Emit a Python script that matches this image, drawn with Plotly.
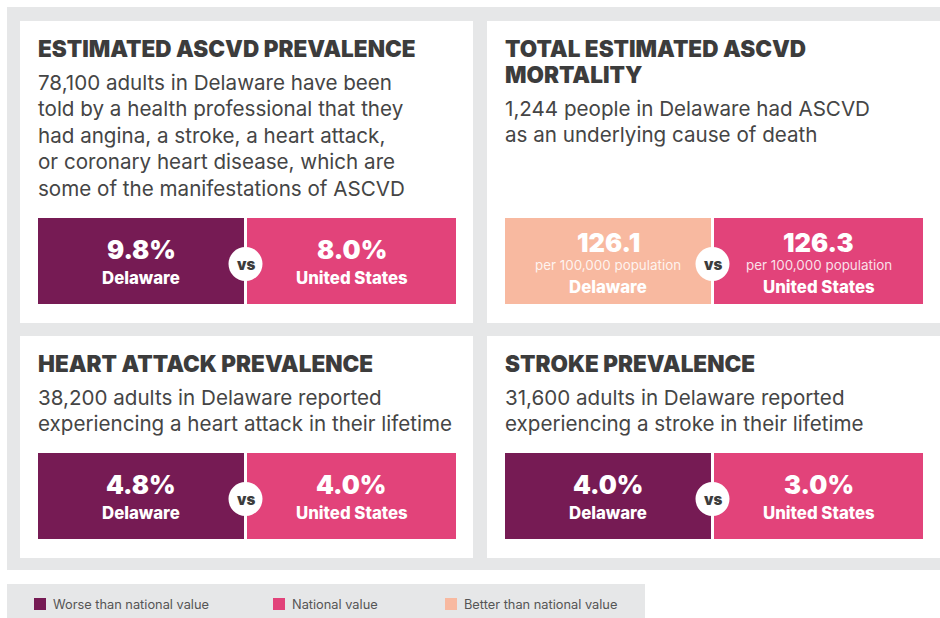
import plotly.graph_objects as go

# ---------------- data ----------------
titles = [
    ["ESTIMATED ASCVD PREVALENCE"],
    ["TOTAL ESTIMATED ASCVD", "MORTALITY"],
    ["HEART ATTACK PREVALENCE"],
    ["STROKE PREVALENCE"],
]
descriptions = [
    ["78,100 adults in Delaware have been",
     "told by a health professional that they",
     "had angina, a stroke, a heart attack,",
     "or coronary heart disease, which are",
     "some of the manifestations of ASCVD"],
    ["1,244 people in Delaware had ASCVD",
     "as an underlying cause of death"],
    ["38,200 adults in Delaware reported",
     "experiencing a heart attack in their lifetime"],
    ["31,600 adults in Delaware reported",
     "experiencing a stroke in their lifetime"],
]
state_values = ["9.8%", "126.1", "4.8%", "4.0%"]
us_values = ["8.0%", "126.3", "4.0%", "3.0%"]
value_units = ["", "per 100,000 population", "", ""]
state_status = ["worse", "better", "worse", "worse"]
state_name = "Delaware"
nation_name = "United States"
legend_labels = ["Worse than national value", "National value", "Better than national value"]
legend_keys = ["worse", "national", "better"]

# ---------------- styles ----------------
COL = {"worse": "#761B54", "national": "#E2437A", "better": "#F8B9A0"}
GREY = "#E6E7E8"
TITLE_C = "#3C3C3C"
TEXT_C = "#454545"
W, H = 940, 618
HEAVY = "Inter"
BODY = "Inter"

# card frames: (x0, y0, x1, y1)
cards = [(20, 21, 473, 323), (487, 21, 945, 323), (20, 336, 473, 558), (487, 336, 945, 558)]
box_tops = [218, 218, 453, 453]
box_h = 86

shapes = []
ann = []

def rect(x0, y0, x1, y1, color):
    shapes.append(dict(type="rect", xref="x", yref="y", x0=x0, y0=y0, x1=x1, y1=y1,
                       fillcolor=color, line=dict(width=0), layer="below"))

def text(x, y, s, size, color, family=BODY, weight="normal", xanchor="left"):
    ann.append(dict(x=x, y=y, xref="x", yref="y", text=s, showarrow=False,
                    xanchor=xanchor, yanchor="middle",
                    font=dict(family=family, size=size, color=color, weight=weight)))

# outer grey
rect(7, 7, 945, 570, GREY)

for i, (x0, y0, x1, y1) in enumerate(cards):
    rect(x0, y0, x1, y1, "white")
    tx = x0 + 18
    # title
    ty = y0 + 27
    for line in titles[i]:
        text(tx - 2, ty, line, 22.5, TITLE_C, family=HEAVY, weight=900)
        ty += 26
    # description
    dy = ty + 8
    for line in descriptions[i]:
        text(tx - 2, dy, line, 20.6, TEXT_C)
        dy += 26.6
    # comparison boxes
    bt = box_tops[i]
    bx0, bmid, bx1 = tx, tx + 207.5, tx + 418
    rect(bx0, bt, bmid - 1.5, bt + box_h, COL[state_status[i]])
    rect(bmid + 1.5, bt, bx1, bt + box_h, COL["national"])
    lc = (bx0 + bmid - 1.5) / 2
    rc = (bmid + 1.5 + bx1) / 2
    for cx, val, name in [(lc, state_values[i], state_name), (rc, us_values[i], nation_name)]:
        if value_units[i]:
            text(cx, bt + 24, val, 25.5, "white", family=HEAVY, weight=900, xanchor="center")
            text(cx, bt + 47, value_units[i], 13.4, "rgba(255,255,255,0.85)", xanchor="center")
            text(cx, bt + 69, name, 16.8, "white", family=HEAVY, weight=800, xanchor="center")
        else:
            text(cx, bt + 31, val, 25.5, "white", family=HEAVY, weight=900, xanchor="center")
            text(cx, bt + 60, name, 16.8, "white", family=HEAVY, weight=800, xanchor="center")
    # vs circle
    cy = bt + 46
    shapes.append(dict(type="circle", xref="x", yref="y", x0=bmid - 17, x1=bmid + 17,
                       y0=cy - 17, y1=cy + 17, fillcolor="white", line=dict(width=0)))
    text(bmid, cy, "vs", 15, TITLE_C, family=HEAVY, weight=900, xanchor="center")

# legend panel
rect(7, 584, 645, 620, GREY)
leg_x = [34, 273, 445]
for lx, lab, key in zip(leg_x, legend_labels, legend_keys):
    shapes.append(dict(type="rect", xref="x", yref="y", x0=lx, x1=lx + 12, y0=598, y1=610,
                       fillcolor=COL[key], line=dict(width=0)))
    text(lx + 17, 604, lab, 12.8, "#555555")

fig = go.Figure()
fig.update_layout(
    width=W, height=H, margin=dict(l=0, r=0, t=0, b=0),
    paper_bgcolor="white", plot_bgcolor="white",
    xaxis=dict(range=[0, W], visible=False, fixedrange=True),
    yaxis=dict(range=[H, 0], visible=False, fixedrange=True),
    shapes=shapes, annotations=ann, showlegend=False,
)
fig.write_html("out.html", config={"displayModeBar": False},
               post_script="document.body.style.margin='0';document.body.style.overflow='hidden';")
